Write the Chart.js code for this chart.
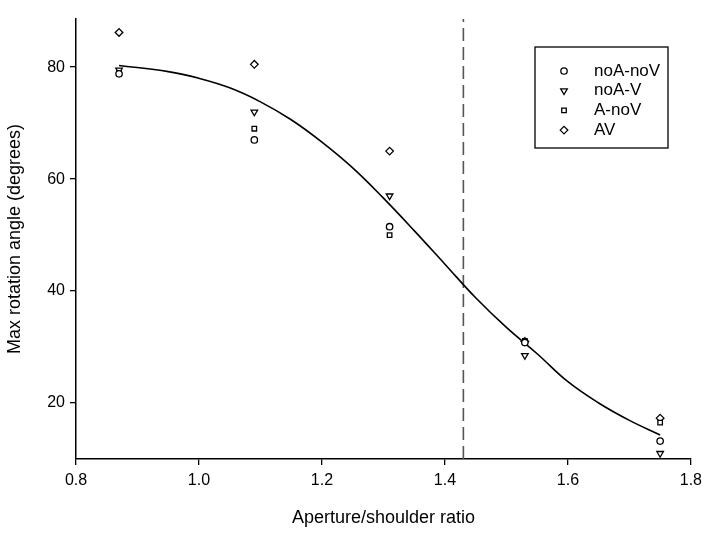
<!DOCTYPE html>
<html>
<head>
<meta charset="utf-8">
<script src="https://cdn.jsdelivr.net/npm/chart.js@4/dist/chart.umd.min.js"></script>
<style>
html,body{margin:0;padding:0;background:#fff;}
#wrap{width:708px;height:533px;}
</style>
</head>
<body>
<div id="wrap"><canvas id="c" width="708" height="533"></canvas></div>
<script>
const ratios = [0.87, 1.09, 1.31, 1.53, 1.75];
const noAnoV = [78.8, 67.0, 51.5, 30.8, 13.2];
const noAV   = [79.5, 72.0, 57.0, 28.5, 11.0];
const AnoV   = [79.2, 69.0, 50.0, 31.1, 16.5];
const AV     = [86.2, 80.5, 65.0, 31.0, 17.3];

const curveX = [0.87, 0.95, 1.00, 1.05, 1.10, 1.15, 1.20, 1.25, 1.30, 1.35, 1.40, 1.45, 1.50, 1.55, 1.60, 1.65, 1.70, 1.75];
const curveY = [80.3, 79.2, 78.0, 76.3, 73.8, 70.6, 66.6, 62.0, 56.6, 50.8, 44.8, 38.8, 33.5, 28.8, 23.8, 20.0, 16.9, 14.3];

const cutoffX = [1.43, 1.43];
const cutoffY = [10, 88.6];

const xTicks = [0.8, 1.0, 1.2, 1.4, 1.6, 1.8];
const yTicks = [20, 40, 60, 80];

const toPts = (xs, ys) => xs.map((x, i) => ({x: x, y: ys[i]}));

const markerSets = [
  {label: 'noA-noV', data: noAnoV, style: 'circle', rot: 0, r: 3.2},
  {label: 'noA-V', data: noAV, style: 'triangle', rot: 180, r: 3.8},
  {label: 'A-noV', data: AnoV, style: 'rect', rot: 0, r: 3.2},
  {label: 'AV', data: AV, style: 'rectRot', rot: 0, r: 3.8}
];

const datasets = [
  {
    label: 'fit', data: toPts(curveX, curveY), showLine: true, borderColor: '#000',
    borderWidth: 1.6, pointRadius: 0, tension: 0.4, fill: false, order: 5
  },
  {
    label: 'cutoff', data: toPts(cutoffX, cutoffY), showLine: true, borderColor: '#555',
    borderWidth: 1.6, borderDash: [13, 6], pointRadius: 0, fill: false, order: 6
  }
];
markerSets.forEach(m => {
  datasets.push({
    label: m.label, data: toPts(ratios, m.data), showLine: false,
    pointStyle: m.style, rotation: m.rot, pointRadius: m.r, pointBorderWidth: 1.3,
    borderColor: '#000', backgroundColor: '#fff', pointBackgroundColor: '#fff', order: 1
  });
});

const legendPlugin = {
  id: 'boxLegend',
  afterDraw(chart) {
    const ctx = chart.ctx;
    const x0 = 535, y0 = 47, w = 133, h = 101;
    ctx.save();
    ctx.strokeStyle = '#000';
    ctx.lineWidth = 1.3;
    ctx.strokeRect(x0, y0, w, h);
    ctx.font = '17px "Liberation Sans", Arial, sans-serif';
    ctx.textBaseline = 'middle';
    markerSets.forEach((m, i) => {
      const yy = y0 + 24 + i * 19.7;
      ctx.strokeStyle = '#000';
      ctx.fillStyle = '#fff';
      ctx.lineWidth = 1.3;
      Chart.helpers.drawPoint(ctx, {pointStyle: m.style, rotation: m.rot, radius: m.r, borderWidth: 1.3}, 564, yy);
      ctx.fillStyle = '#000';
      ctx.fillText(m.label, 594, yy);
    });
    ctx.restore();
  }
};

new Chart(document.getElementById('c'), {
  type: 'scatter',
  data: {datasets: datasets},
  options: {
    responsive: false,
    animation: false,
    devicePixelRatio: 1,
    layout: {padding: {left: 0, right: 14, top: 19, bottom: 0}},
    plugins: {legend: {display: false}, tooltip: {enabled: false}},
    scales: {
      x: {
        type: 'linear', min: 0.8, max: 1.8,
        afterBuildTicks: s => { s.ticks = xTicks.map(v => ({value: v})); },
        afterFit: s => { s.height = 74; },
        grid: {display: true, drawOnChartArea: false, drawTicks: true, tickLength: 6, color: '#000', lineWidth: 1.3},
        border: {display: true, color: '#000', width: 1.5},
        ticks: {
          color: '#000', padding: 6,
          font: {family: '"Liberation Sans", Arial, sans-serif', size: 16},
          callback: v => Number(v).toFixed(1)
        },
        title: {
          display: true, text: 'Aperture/shoulder ratio', color: '#000',
          font: {family: '"Liberation Sans", Arial, sans-serif', size: 18},
          padding: {top: 16}
        }
      },
      y: {
        type: 'linear', min: 10, max: 88.6,
        afterBuildTicks: s => { s.ticks = yTicks.map(v => ({value: v})); },
        afterFit: s => { s.width = 76; },
        grid: {display: true, drawOnChartArea: false, drawTicks: true, tickLength: 6, color: '#000', lineWidth: 1.3},
        border: {display: true, color: '#000', width: 1.5},
        ticks: {
          color: '#000', padding: 5,
          font: {family: '"Liberation Sans", Arial, sans-serif', size: 16}
        },
        title: {
          display: true, text: 'Max rotation angle (degrees)', color: '#000',
          font: {family: '"Liberation Sans", Arial, sans-serif', size: 18},
          padding: {bottom: 8}
        }
      }
    }
  },
  plugins: [legendPlugin]
});
</script>
</body>
</html>
